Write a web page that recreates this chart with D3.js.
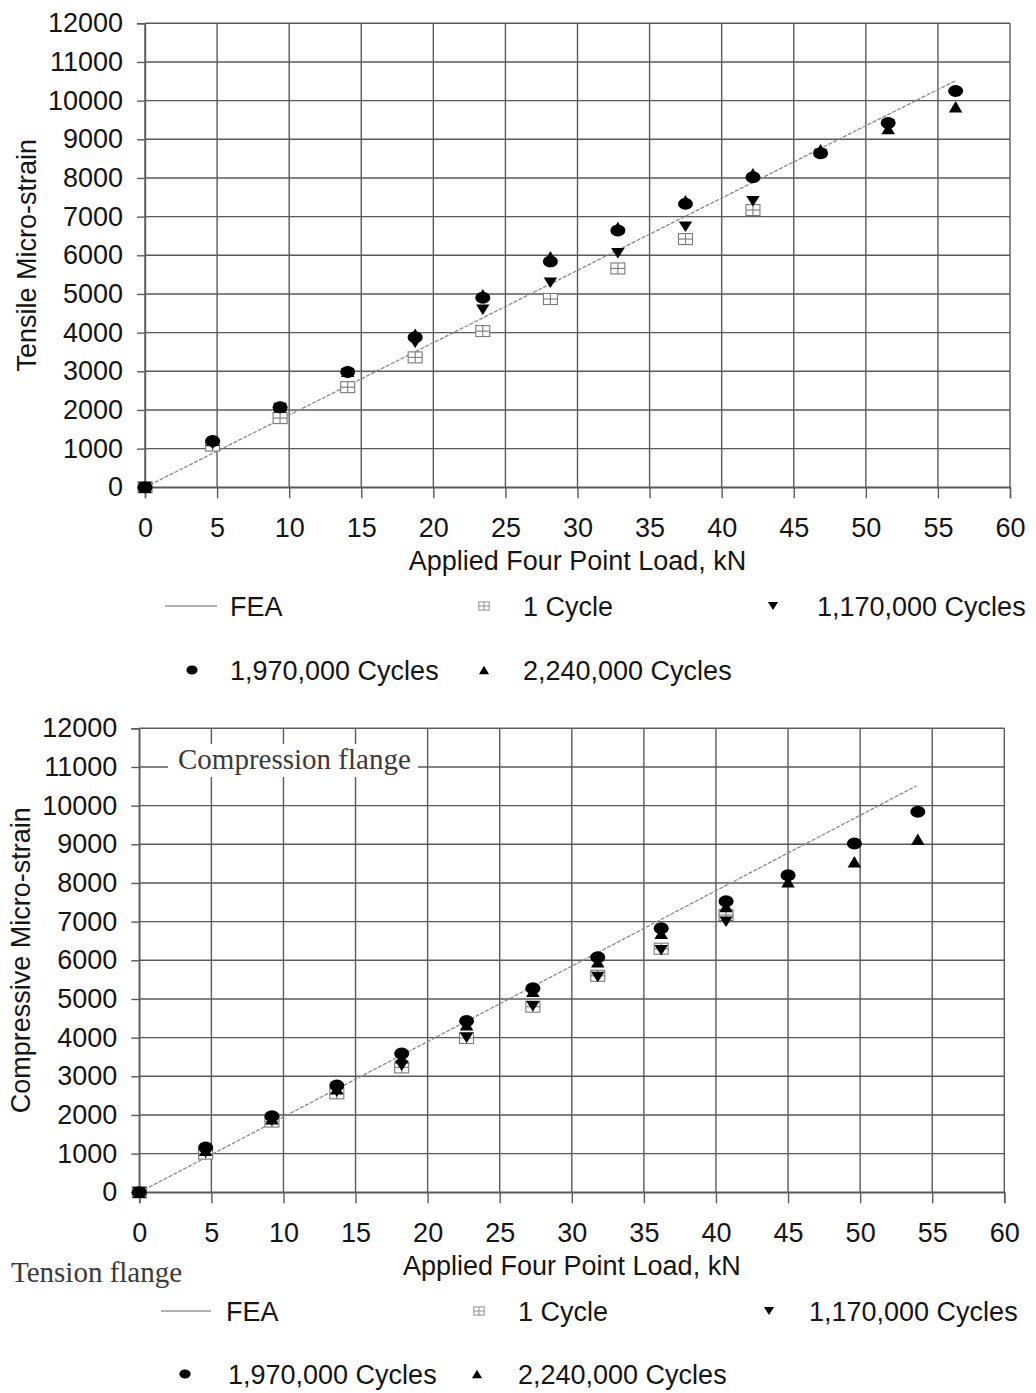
<!DOCTYPE html>
<html>
<head>
<meta charset="utf-8">
<script src="https://cdn.jsdelivr.net/npm/d3@7"></script>
<style>
  html, body { margin: 0; padding: 0; background: #fff; }
  svg { display: block; font-family: "Liberation Sans", Arial, sans-serif; }
</style>
</head>
<body>
<svg id="fig" width="1036" height="1393"></svg>
<script>
// Shared tick values
const xTicks = [0, 5, 10, 15, 20, 25, 30, 35, 40, 45, 50, 55, 60];
const yTicks = [0, 1000, 2000, 3000, 4000, 5000, 6000, 7000, 8000, 9000, 10000, 11000, 12000];

// Series names (legend order)
const seriesNames = ["FEA", "1 Cycle", "1,170,000 Cycles", "1,970,000 Cycles", "2,240,000 Cycles"];

// Tension flange (top panel)
const tenLoads = [0, 4.69, 9.37, 14.06, 18.74, 23.43, 28.12, 32.8, 37.49, 42.17, 46.86, 51.55, 56.23];
const tenCycle1 = [0, 1080, 1790, 2590, 3360, 4040, 4870, 5660, 6420, 7170, null, null, null];
const tenCycle1170k = [0, 1120, 2050, 2950, 3740, 4590, 5290, 6050, 6740, 7400, 8620, 9380, null];
const tenCycle1970k = [0, 1200, 2070, 2980, 3880, 4900, 5840, 6640, 7330, 8020, 8640, 9420, 10250];
const tenCycle2240k = [0, 1220, 2080, 3000, 3960, 4980, 5960, 6720, 7410, 8110, 8730, 9280, 9840];
const tenFeaLoad = [0, 56.2];
const tenFeaStrain = [0, 10510];

// Compression flange (bottom panel)
const compLoads = [0, 4.6, 9.2, 13.7, 18.2, 22.7, 27.3, 31.8, 36.2, 40.7, 45.0, 49.6, 54.0];
const compCycle1 = [0, 1000, 1830, 2560, 3230, 3990, 4800, 5600, 6300, 7170, null, null, null];
const compCycle1170k = [0, 1030, 1850, 2600, 3270, 4000, 4810, 5570, 6260, 7000, null, null, null];
const compCycle1970k = [0, 1160, 1970, 2760, 3590, 4430, 5280, 6080, 6830, 7530, 8200, 9020, 9840];
const compCycle2240k = [0, 1090, 1900, 2680, 3480, 4330, 5200, 5960, 6700, 7390, 8030, 8550, 9130];
const compFeaLoad = [0, 53.9];
const compFeaStrain = [0, 10510];

const svg = d3.select("#fig");
svg.append("rect").attr("width", 1036).attr("height", 1393).attr("fill", "#fff");

const W = 865, H = 464;
const FONT = 27;
const GRID = "#5a5a5a";
const TEXT = "#151515";

// Marker path generators
function triDown(w, h) { return `M${-w/2},${-h/2}L${w/2},${-h/2}L0,${h/2}Z`; }
function triUp(w, h) { return `M0,${-h/2}L${w/2},${h/2}L${-w/2},${h/2}Z`; }

function drawMarker(g, kind, x, y, s) {
  if (kind === "box") {
    const w = 14 * s, h = 11 * s;
    const m = g.append("g").attr("transform", `translate(${x},${y})`)
      .attr("fill", "none").attr("stroke", s < 1 ? "#999" : "#7a7a7a").attr("stroke-width", 1.1);
    m.append("rect").attr("x", -w/2).attr("y", -h/2).attr("width", w).attr("height", h).attr("fill", "#fff");
    m.append("line").attr("x1", 0).attr("x2", 0).attr("y1", -h/2).attr("y2", h/2);
    m.append("line").attr("x1", -w/2).attr("x2", w/2).attr("y1", 0).attr("y2", 0);
  } else if (kind === "down") {
    g.append("path").attr("d", triDown(13.5 * s, 10.5 * s)).attr("transform", `translate(${x},${y})`).attr("fill", "#000");
  } else if (kind === "up") {
    g.append("path").attr("d", triUp(13.5 * s, 11.5 * s)).attr("transform", `translate(${x},${y})`).attr("fill", "#000");
  } else if (kind === "dot") {
    g.append("ellipse").attr("cx", x).attr("cy", y).attr("rx", 7.5 * s).attr("ry", 6 * s).attr("fill", "#000");
  }
}

function drawPanel(cfg) {
  const g = svg.append("g").attr("transform", `translate(${cfg.left},${cfg.top})`);
  const x = d3.scaleLinear().domain([0, 60]).range([0, W]);
  const y = d3.scaleLinear().domain([0, 12000]).range([H, 0]);

  // grid
  const grid = g.append("g").attr("stroke", GRID).attr("stroke-width", 1.4);
  grid.selectAll(".v").data(xTicks).join("line")
    .attr("x1", d => x(d)).attr("x2", d => x(d)).attr("y1", 0).attr("y2", H);
  grid.selectAll(".h").data(yTicks).join("line")
    .attr("x1", 0).attr("x2", W).attr("y1", d => y(d)).attr("y2", d => y(d));

  // axes
  const ax = g.append("g").attr("transform", `translate(0,${H})`)
    .call(d3.axisBottom(x).tickValues(xTicks).tickSize(11).tickPadding(20).tickFormat(d3.format("d")));
  const ay = g.append("g")
    .call(d3.axisLeft(y).tickValues(yTicks).tickSize(8).tickPadding(14).tickFormat(d3.format("d")));
  [ax, ay].forEach(a => {
    a.select(".domain").attr("stroke", GRID).attr("stroke-width", 1.4);
    a.selectAll(".tick line").attr("stroke", GRID).attr("stroke-width", 1.4);
    a.selectAll(".tick text").attr("fill", TEXT).style("font-size", FONT + "px")
      .style("font-family", "'Liberation Sans', Arial, sans-serif");
  });

  // axis titles
  g.append("text").attr("x", W / 2).attr("y", H + 83)
    .attr("text-anchor", "middle").attr("fill", TEXT).style("font-size", FONT + "px")
    .text("Applied Four Point Load, kN");
  g.append("text").attr("transform", `translate(${cfg.yTitleX - cfg.left},${H / 2}) rotate(-90)`)
    .attr("text-anchor", "middle").attr("fill", TEXT).style("font-size", FONT + "px")
    .text(cfg.yTitle);

  if (cfg.note) cfg.note(g, x, y);

  // FEA line
  const fea = cfg.feaLoad.map((l, i) => [l, cfg.feaStrain[i]]);
  g.append("path").datum(fea)
    .attr("d", d3.line().x(d => x(d[0])).y(d => y(d[1])))
    .attr("fill", "none").attr("stroke", "#8a8a8a").attr("stroke-width", 1.3)
    .attr("stroke-dasharray", "4,1.5");

  // test series
  const series = [
    { kind: "box", vals: cfg.c1 },
    { kind: "down", vals: cfg.c1170 },
    { kind: "dot", vals: cfg.c1970 },
    { kind: "up", vals: cfg.c2240 }
  ];
  series.forEach(s => {
    const mg = g.append("g");
    cfg.loads.forEach((l, i) => {
      if (s.vals[i] == null) return;
      drawMarker(mg, s.kind, x(l), y(s.vals[i]), 1);
    });
  });

  // legend
  const lg = svg.append("g").attr("fill", TEXT).style("font-size", FONT + "px");
  const L = cfg.legend;
  const r1 = L.row1, r2 = L.row2;
  lg.append("line").attr("x1", L.fea[0]).attr("x2", L.fea[1]).attr("y1", r1).attr("y2", r1)
    .attr("stroke", "#999").attr("stroke-width", 1.6);
  const items = [
    { kind: null, name: seriesNames[0], tx: L.feaText, y: r1 },
    { kind: "box", name: seriesNames[1], mx: L.c1[0], tx: L.c1[1], y: r1 },
    { kind: "down", name: seriesNames[2], mx: L.c1170[0], tx: L.c1170[1], y: r1 },
    { kind: "dot", name: seriesNames[3], mx: L.c1970[0], tx: L.c1970[1], y: r2 },
    { kind: "up", name: seriesNames[4], mx: L.c2240[0], tx: L.c2240[1], y: r2 }
  ];
  items.forEach(it => {
    if (it.kind) drawMarker(lg, it.kind, it.mx, it.y, 0.75);
    lg.append("text").attr("x", it.tx).attr("y", it.y).attr("dy", "0.36em").text(it.name);
  });
}

// top panel: tensile strain
drawPanel({
  left: 145, top: 23.3, yTitle: "Tensile Micro-strain", yTitleX: 36,
  loads: tenLoads, c1: tenCycle1, c1170: tenCycle1170k, c1970: tenCycle1970k, c2240: tenCycle2240k,
  feaLoad: tenFeaLoad, feaStrain: tenFeaStrain,
  legend: { row1: 606, row2: 670, fea: [165, 217], feaText: 230,
    c1: [484, 523], c1170: [773, 817], c1970: [192, 230], c2240: [484, 523] }
});

// bottom panel: compressive strain
drawPanel({
  left: 139.3, top: 728.3, yTitle: "Compressive Micro-strain", yTitleX: 30,
  loads: compLoads, c1: compCycle1, c1170: compCycle1170k, c1970: compCycle1970k, c2240: compCycle2240k,
  feaLoad: compFeaLoad, feaStrain: compFeaStrain,
  legend: { row1: 1311, row2: 1374, fea: [161, 211], feaText: 226,
    c1: [479, 518], c1170: [769, 809], c1970: [185, 228], c2240: [477, 518] },
  note: (g) => {
    g.append("rect").attr("x", 168 - 139.3).attr("y", 744 - 728.3).attr("width", 250).attr("height", 33).attr("fill", "#fff");
    g.append("text").attr("x", 178 - 139.3).attr("y", 769 - 728.3)
      .style("font-family", "'Liberation Serif', 'Times New Roman', serif").style("font-size", "29px")
      .attr("fill", "#3a3a3a").text("Compression flange");
  }
});

// label under the bottom panel
svg.append("text").attr("x", 11).attr("y", 1281.5)
  .style("font-family", "'Liberation Serif', 'Times New Roman', serif").style("font-size", "29px")
  .attr("fill", "#3a3a3a").text("Tension flange");
</script>
</body>
</html>
